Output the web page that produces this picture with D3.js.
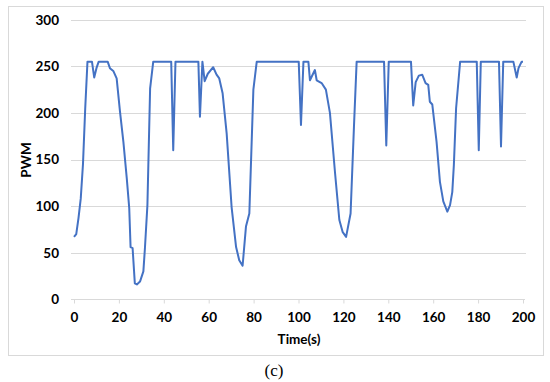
<!DOCTYPE html>
<html><head><meta charset="utf-8">
<script src="https://cdn.jsdelivr.net/npm/d3@7"></script>
<style>body{margin:0;background:#fff}svg{display:block}</style>
</head><body><svg id="c" width="550" height="382"></svg>
<script>
const times = [0,1,2,3,4,5,6,8,9,10,11,15,16,17.5,19,20.5,22,23.5,24.6,25.2,26.1,27.1,28,29.4,30.9,31.6,32.7,33.9,35.3,
43.3,44.2,45.2,55.4,56.1,57.2,58.2,59.6,62,63.5,64.7,66.2,68,70.2,72.2,73.6,75.1,76.6,78.1,79.9,81.4,
100.1,101.1,102.2,104.4,105.1,107.3,108.1,110.3,112.2,114,116.3,118.2,119.7,121.2,123.2,124.7,125.9,
138.1,139.1,140.2,150.1,151.1,152.2,153.6,155.1,156.6,157.8,158.5,159.6,161.5,163,164.5,166.3,167.5,168.5,169.2,170.2,172,
179.4,180.3,181.2,189.3,190.2,191.2,195.7,197.2,198,199.4,200];
const pwm = [67,70,87,108,145,205,255,255,238,248,255,255,248,245,237,201,169,130,98,56,55,17,16,19,30,55,101,226,255,
255,160,255,255,196,255,234,242,249,241,237,221,178,99,56,42,36,78,92,225,255,
255,187,255,255,235,246,235,232,225,200,135,85,72,67,92,185,255,
255,165,255,255,208,233,240,241,232,230,212,209,169,126,105,94,101,115,144,205,255,
255,160,255,255,164,255,255,238,248,255,255];
const xTicks = [0,20,40,60,80,100,120,140,160,180,200];
const yTicks = [0,50,100,150,200,250,300];

const svg = d3.select("#c");
const x = d3.scaleLinear().domain([0,200]).range([74,523]);
const y = d3.scaleLinear().domain([0,300]).range([299.3,19.7]);
const font = "Lato, 'Open Sans', sans-serif";

svg.append("rect").attr("x",8.5).attr("y",6.5).attr("width",535).attr("height",349)
  .attr("fill","#fff").attr("stroke","#d9d9d9");

// gridlines
svg.append("g").selectAll("line").data(yTicks.filter(d=>d>0)).join("line")
  .attr("x1",x(0)-3).attr("x2",x(200)+3)
  .attr("y1",d=>Math.round(y(d))+0.5).attr("y2",d=>Math.round(y(d))+0.5)
  .attr("stroke","#d9d9d9");

// x axis
const xa = svg.append("g").attr("transform",`translate(0,${Math.round(y(0))+0.5})`)
  .call(d3.axisBottom(x).tickValues(xTicks).tickSize(4).tickPadding(9).tickSizeOuter(0));
xa.select(".domain").attr("stroke","#d9d9d9").attr("d",`M${x(0)-3},0H${x(200)+2}`);
xa.selectAll(".tick line").attr("stroke","#d9d9d9");
xa.selectAll(".tick text").attr("font-family",font).attr("font-weight","bold")
  .attr("font-size",13.5).attr("fill","#000");

// y axis
const ya = svg.append("g").attr("transform",`translate(${x(0)},0)`)
  .call(d3.axisLeft(y).tickValues(yTicks).tickSize(0).tickPadding(15));
ya.select(".domain").remove();
ya.selectAll(".tick text").attr("font-family",font).attr("font-weight","bold")
  .attr("font-size",13.5).attr("fill","#000");

// line
const data = times.map((t,i)=>[t,pwm[i]]);
svg.append("path").datum(data)
  .attr("fill","none").attr("stroke","#4472c4").attr("stroke-width",2)
  .attr("stroke-linejoin","round")
  .attr("d",d3.line().x(d=>x(d[0])).y(d=>y(d[1])));

svg.append("text").attr("x",299).attr("y",344).attr("text-anchor","middle")
  .attr("font-family",font).attr("font-weight","bold").attr("font-size",13.5).text("Time(s)");
svg.append("text").attr("transform","translate(31,160) rotate(-90)").attr("text-anchor","middle")
  .attr("font-family",font).attr("font-weight","bold").attr("font-size",13.5).text("PWM");
svg.append("text").attr("x",274).attr("y",376).attr("text-anchor","middle")
  .attr("font-family","'Liberation Serif', serif").attr("font-size",17).text("(c)");
</script></body></html>
